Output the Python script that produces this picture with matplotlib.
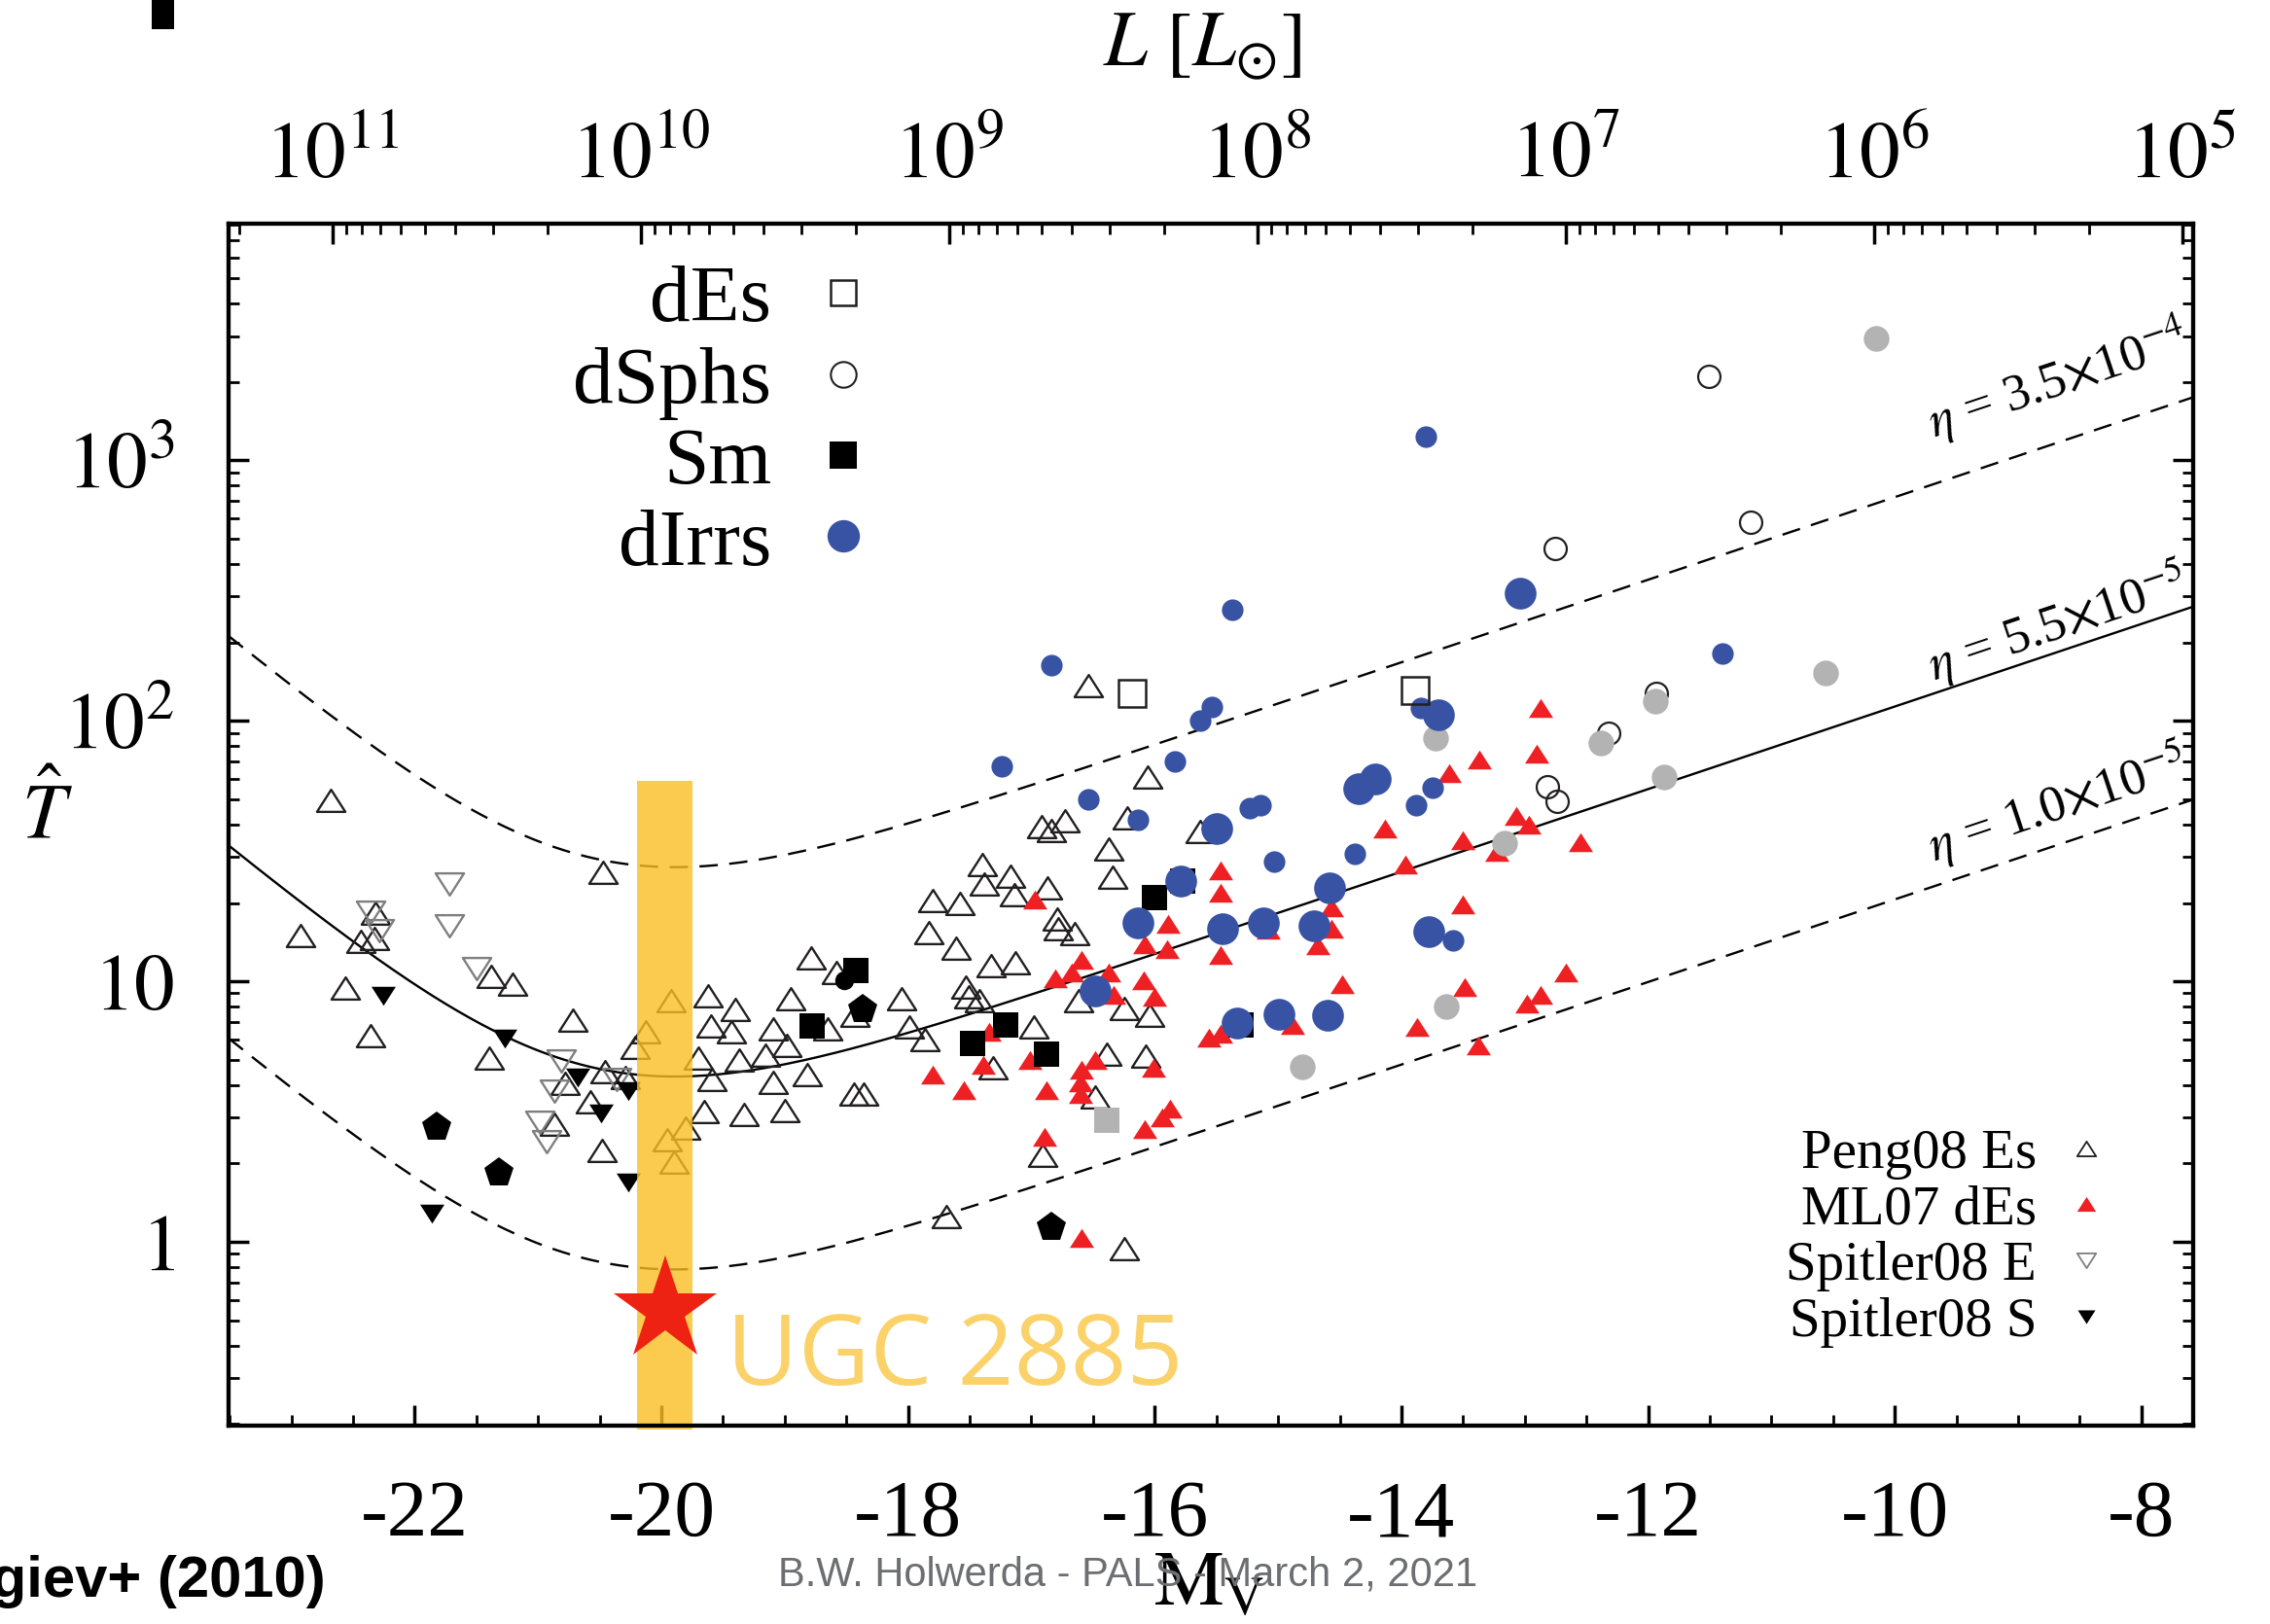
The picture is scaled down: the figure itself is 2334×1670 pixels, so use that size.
import numpy as np
import matplotlib
matplotlib.use('Agg')
import matplotlib.pyplot as plt
from matplotlib.path import Path
from matplotlib.lines import Line2D
from matplotlib.patches import Rectangle
from matplotlib.ticker import (MultipleLocator, FixedLocator, FuncFormatter,
                               LogLocator, NullFormatter)

plt.rcParams['font.family'] = ['Liberation Serif', 'DejaVu Serif']
plt.rcParams['mathtext.fontset'] = 'stix'
plt.rcParams['axes.unicode_minus'] = False

# ---------------- data (M_V, T_hat) ----------------
peng08_es = [(-22.685, 49.4), (-22.93, 15.0), (-22.44, 14.2), (-22.32, 18.3), (-22.33, 14.6),
             (-22.56, 9.4), (-22.36, 6.2), (-20.47, 26.2), (-21.38, 10.5), (-21.21, 9.8),
             (-20.72, 7.1), (-21.40, 5.1), (-20.78, 4.05), (-20.46, 4.5), (-20.58, 3.44),
             (-20.87, 2.84), (-20.48, 2.24), (-20.29, 4.26), (-20.21, 5.6), (-20.13, 6.4),
             (-19.92, 8.4), (-19.95, 2.47), (-19.80, 2.73), (-19.90, 2.03), (-19.62, 8.8),
             (-19.40, 7.8), (-19.60, 6.75), (-19.43, 6.4), (-19.70, 5.1), (-19.59, 4.2),
             (-19.37, 5.0), (-19.65, 3.16), (-19.33, 3.09), (-19.09, 6.6), (-19.16, 5.2),
             (-19.09, 4.1),
             (-16.54, 137), (-16.06, 61), (-16.92, 39.4), (-16.84, 38.1), (-16.73, 41.2),
             (-16.22, 42.3), (-15.63, 37.7), (-16.37, 32.2), (-16.34, 25.2), (-17.40, 28.1),
             (-17.38, 23.6), (-17.17, 25.4), (-17.14, 21.5), (-16.87, 22.8), (-17.80, 20.5),
             (-17.58, 20.0), (-17.83, 15.4), (-17.61, 13.4), (-16.79, 17.4), (-16.78, 16.0),
             (-16.65, 15.3), (-18.79, 12.3), (-17.33, 11.5), (-17.13, 11.8), (-18.95, 8.6),
             (-18.58, 10.8), (-17.53, 9.5), (-17.51, 8.7), (-17.42, 8.4), (-18.05, 8.6),
             (-16.25, 7.9), (-16.04, 7.4), (-16.62, 8.4), (-18.65, 6.6), (-17.99, 6.7),
             (-17.86, 6.0), (-18.98, 5.7), (-18.43, 7.4), (-16.98, 6.7), (-18.82, 4.4),
             (-18.44, 3.7), (-18.36, 3.7), (-19.00, 3.2), (-17.31, 4.67), (-16.39, 5.24),
             (-16.07, 5.15), (-16.48, 3.6), (-16.91, 2.15), (-17.69, 1.25), (-16.25, 0.94)]

ml07_des = [(-16.97, 20.7), (-15.47, 26.7), (-15.47, 21.9), (-15.89, 16.7), (-16.08, 13.9),
            (-15.90, 13.3), (-15.47, 12.6), (-16.59, 12.1), (-16.81, 10.3), (-16.67, 10.8),
            (-16.37, 10.8), (-16.09, 10.1), (-16.00, 8.7), (-16.33, 8.9), (-14.57, 19.2),
            (-14.57, 16.0), (-14.68, 13.8), (-15.08, 15.8), (-14.48, 9.8), (-17.34, 6.4),
            (-17.39, 4.8), (-17.80, 4.4), (-17.55, 3.83), (-17.01, 5.0), (-16.88, 3.83),
            (-16.59, 4.6), (-16.48, 5.0), (-16.60, 4.1), (-16.60, 3.7), (-16.01, 4.67),
            (-15.56, 6.1), (-15.47, 6.3), (-14.88, 6.8), (-16.89, 2.54), (-16.08, 2.71),
            (-15.94, 3.0), (-15.88, 3.25), (-16.59, 1.04),
            (-12.87, 112), (-12.90, 75), (-13.37, 71), (-13.61, 63), (-14.13, 38.7),
            (-13.50, 34.7), (-13.07, 43), (-12.97, 40), (-13.23, 31.5), (-13.97, 28),
            (-12.55, 34.2), (-13.50, 19.7), (-13.49, 9.5), (-12.67, 10.8), (-12.87, 8.9),
            (-12.98, 8.2), (-13.87, 6.7), (-13.38, 5.7)]

spitler08_e = [(-21.72, 23.6), (-21.72, 16.4), (-22.36, 18.4), (-22.29, 15.7), (-21.50, 11.2),
               (-20.81, 4.97), (-20.87, 3.79), (-20.36, 4.2), (-20.99, 2.87), (-20.93, 2.43)]

spitler08_s = [(-22.26, 8.8), (-21.27, 6.05), (-20.68, 4.26), (-20.27, 3.79), (-20.49, 3.11),
               (-20.27, 1.69), (-21.86, 1.28)]

des = [(-16.18, 127), (-13.89, 131)]

dsphs = [(-12.75, 457), (-11.51, 2100), (-11.17, 577), (-11.93, 127), (-12.32, 90),
         (-12.82, 56), (-12.74, 49)]

sm = [(-18.42, 11.0), (-18.78, 6.75), (-17.21, 6.8), (-17.48, 5.8), (-16.88, 5.24),
      (-16.00, 21.0), (-15.77, 24.2), (-15.30, 6.8)]

dirrs_small = [(-16.84, 163), (-17.24, 66.7), (-16.54, 49.9), (-15.535, 113), (-15.63, 100),
               (-15.84, 70), (-16.14, 41.9), (-15.23, 46.4), (-15.14, 47.4), (-15.03, 28.8),
               (-14.38, 31), (-13.80, 1233), (-15.37, 266), (-11.40, 181), (-13.84, 112),
               (-13.75, 55.5), (-13.88, 47.5), (-13.58, 14.4)]

dirrs_big = [(-15.50, 38.5), (-15.79, 24.3), (-16.14, 16.8), (-15.45, 15.9), (-15.12, 16.8),
             (-14.71, 16.4), (-14.58, 22.9), (-16.48, 9.2), (-15.33, 6.9), (-14.99, 7.5),
             (-14.60, 7.4), (-14.35, 55), (-14.21, 60), (-13.04, 310), (-13.70, 106),
             (-13.78, 15.5)]

grey_circles = [(-14.80, 4.7), (-13.72, 86), (-11.94, 119), (-12.38, 82), (-11.87, 61),
                (-13.16, 33.8), (-13.64, 8.0), (-10.56, 153), (-10.15, 2930)]
grey_square = [(-16.39, 2.92)]
pentagons = [(-21.82, 2.77), (-21.32, 1.84), (-18.37, 7.8), (-16.84, 1.14)]
black_circle = [(-18.52, 10.1)]

ugc2885 = [(-19.97, 0.548)]
ugc_band_M = (-20.20, -19.75)
ugc_band_T = (0.19, 59.0)

eta_values = [3.5e-4, 5.5e-5, 1.0e-5]
eta_labels = [r'$\eta$ = 3.5$\times$10$^{-4}$', r'$\eta$ = 5.5$\times$10$^{-5}$',
              r'$\eta$ = 1.0$\times$10$^{-5}$']
eta_label_T = [2047, 239, 48.3]

x_ticks = [-22, -20, -18, -16, -14, -12, -10, -8]
L_exponents = [11, 10, 9, 8, 7, 6, 5]
M_sun_V = 4.83
xlim = (-23.51, -7.58)
ylim = (0.1972, 8100)


def model_logT(M, eta):
    """Georgiev+2010-type model curve, T-hat scaling linearly with eta."""
    u = M + 20.0
    return np.log10(eta) + 4.7296 + 0.1585 * u + np.log10(1 + 10 ** (-0.55 * (u + 0.605)))


def split(pts):
    a = np.array(pts, dtype=float)
    return a[:, 0], a[:, 1]


# ---------------- figure ----------------
W, H = 2334, 1670
fig = plt.figure(figsize=(W / 100, H / 100), dpi=100, facecolor='white')
ax = fig.add_axes([235 / W, 1 - 1466 / H, (2255 - 235) / W, (1466 - 230) / H])
ax.set_yscale('log')
ax.set_xlim(*xlim)
ax.set_ylim(*ylim)

blue = '#3953A4'
red = '#EE2024'
dark = '#231F20'
greyc = '#B3B3B3'
tri_up = Path([(-1, -0.78), (1, -0.78), (0, 0.78), (-1, -0.78)], closed=True)
tri_dn = Path([(-1, 0.78), (1, 0.78), (0, -0.78), (-1, 0.78)], closed=True)

# model curves
Mg = np.linspace(xlim[0], xlim[1], 500)
for eta in eta_values:
    ls = '-' if eta == 5.5e-5 else '--'
    line, = ax.plot(Mg, 10 ** model_logT(Mg, eta), color='black', lw=1.7, ls=ls, zorder=1.5)
    if ls == '--':
        line.set_dashes((8, 5))


def pl(pts, **kw):
    m, t = split(pts)
    ax.plot(m, t, ls='none', **kw)


pl(peng08_es, marker=tri_up, ms=21, mfc='none', mec=dark, mew=1.7, zorder=3)
pl(spitler08_e, marker=tri_dn, ms=21, mfc='none', mec='#7F7F7F', mew=1.7, zorder=3)
pl(spitler08_s, marker=tri_dn, ms=18, mfc='black', mec='black', mew=0, zorder=3.2)
pl(ml07_des, marker=tri_up, ms=18, mfc=red, mec=red, mew=0, zorder=3.4)
pl(pentagons, marker='p', ms=23, mfc='black', mec='black', mew=0, zorder=3.5)
pl(black_circle, marker='o', ms=14, mfc='black', mec='black', mew=0, zorder=3.5)
pl(sm, marker='s', ms=19, mfc='black', mec='black', mew=0, zorder=3.6)
pl(dsphs, marker='o', ms=16.5, mfc='none', mec=dark, mew=1.6, zorder=3.7)
pl(grey_circles, marker='o', ms=19, mfc=greyc, mec=greyc, mew=0, zorder=3.8)
pl(grey_square, marker='s', ms=19, mfc=greyc, mec=greyc, mew=0, zorder=3.8)
pl(dirrs_small, marker='o', ms=16, mfc=blue, mec=blue, mew=0, zorder=4)
pl(dirrs_big, marker='o', ms=23.5, mfc=blue, mec=blue, mew=0, zorder=4)
pl(des, marker='s', ms=20.5, mfc='none', mec=dark, mew=1.8, zorder=4.5)

# UGC 2885 band and star
ax.add_patch(Rectangle((ugc_band_M[0], ugc_band_T[0]), ugc_band_M[1] - ugc_band_M[0],
                       ugc_band_T[1] - ugc_band_T[0], facecolor=(251 / 255, 190 / 255, 35 / 255),
                       alpha=0.8, lw=0, zorder=10, clip_on=False))
um, ut = split(ugc2885)
ax.plot(um, ut, ls='none', marker='*', ms=81, color='#EE2212', mew=0, zorder=12)
ax.text(-19.47, 0.283, 'UGC 2885', family='Open Sans', fontsize=73, color='#FBD26A',
        ha='left', va='baseline', zorder=12)

# eta labels
for lab, tl in zip(eta_labels, eta_label_T):
    ax.text(-8.68, tl, lab, fontsize=38, rotation=18.5, rotation_mode='anchor',
            ha='center', va='center', zorder=6)

# ticks
ax.xaxis.set_major_locator(FixedLocator(x_ticks))
ax.xaxis.set_minor_locator(MultipleLocator(0.5))
ax.xaxis.set_major_formatter(FuncFormatter(lambda v, p: '%d' % round(v)))
ax.yaxis.set_major_locator(LogLocator(base=10, numticks=20))
ax.yaxis.set_minor_locator(LogLocator(base=10, subs=np.arange(2, 10), numticks=20))
ax.yaxis.set_minor_formatter(NullFormatter())


def yfmt(v, p):
    e = int(round(np.log10(v)))
    return {0: '$1$', 1: '$10$'}.get(e, r'$10^{%d}$' % e)


ax.yaxis.set_major_formatter(FuncFormatter(yfmt))
ax.tick_params(axis='both', which='both', direction='in', top=False, bottom=True,
               left=True, right=True)
ax.tick_params(which='major', length=15, width=2.5, labelsize=60, pad=40)
ax.tick_params(which='minor', length=8, width=2)

tw = ax.twiny()
tw.set_xlim((M_sun_V - xlim[0]) / 2.5, (M_sun_V - xlim[1]) / 2.5)
tw.xaxis.set_major_locator(FixedLocator(L_exponents))
tw.xaxis.set_minor_locator(FixedLocator([n + np.log10(k) for n in range(4, 12)
                                         for k in range(2, 10)]))
tw.xaxis.set_major_formatter(FuncFormatter(lambda v, p: r'$10^{%d}$' % round(v)))
tw.xaxis.set_minor_formatter(NullFormatter())
tw.tick_params(axis='x', which='both', direction='in', top=True, bottom=False)
tw.tick_params(axis='x', which='major', length=15, width=2.5, labelsize=60, pad=21)
tw.tick_params(axis='x', which='minor', length=8, width=2)
for a in (ax, tw):
    for s in a.spines.values():
        s.set_linewidth(3)

# legends
h1 = [Line2D([], [], ls='none', marker='s', ms=19, mfc='none', mec=dark, mew=1.8),
      Line2D([], [], ls='none', marker='o', ms=19, mfc='none', mec=dark, mew=1.5),
      Line2D([], [], ls='none', marker='s', ms=19.5, mfc='black', mec='black', mew=0),
      Line2D([], [], ls='none', marker='o', ms=24, mfc=blue, mec=blue, mew=0)]
leg1 = ax.legend(h1, ['dEs', 'dSphs', 'Sm', 'dIrrs'], loc='upper right',
                 bbox_to_anchor=(0.3233, 0.9660), frameon=False, markerfirst=False,
                 prop={'family': 'Liberation Serif', 'size': 60}, handlelength=0.5,
                 handletextpad=0.635, labelspacing=0.085, borderpad=0, borderaxespad=0,
                 numpoints=1)
ax.add_artist(leg1)
h2 = [Line2D([], [], ls='none', marker=tri_up, ms=14, mfc='none', mec=dark, mew=1.3),
      Line2D([], [], ls='none', marker=tri_up, ms=14, mfc=red, mec=red, mew=0),
      Line2D([], [], ls='none', marker=tri_dn, ms=14, mfc='none', mec='#7F7F7F', mew=1.3),
      Line2D([], [], ls='none', marker=tri_dn, ms=13, mfc='black', mec='black', mew=0)]
leg2 = ax.legend(h2, ['Peng08 Es', 'ML07 dEs', 'Spitler08 E', 'Spitler08 S'],
                 loc='upper right', bbox_to_anchor=(0.9525, 0.247), frameon=False,
                 markerfirst=False, prop={'family': 'Liberation Serif', 'size': 41},
                 handlelength=0.5, handletextpad=0.64, labelspacing=0.1, borderpad=0,
                 borderaxespad=0, numpoints=1)
for lg in (leg1, leg2):
    lg.set_zorder(20)

# axis labels and slide texts
fig.text(22 / W, 1 - 862 / H, r'$\hat{T}$', fontsize=58, ha='left', va='baseline')
fig.text(1134 / W, 1 - 68 / H, r'$L\ [L_{\odot}]$', fontsize=58, ha='left', va='baseline')
fig.text(1186 / W, 1 - 1650 / H, r'$\mathrm{M}_\mathrm{V}$', fontsize=58, ha='left',
         va='baseline')
fig.text(1160 / W, 1 - 1630 / H, 'B.W. Holwerda - PALS - March 2, 2021', ha='center',
         va='baseline', fontsize=30, color='#6D6E71', family='Liberation Sans')
fig.text(335 / W, 1 - 1642 / H, 'Georgiev+ (2010)', ha='right', va='baseline', fontsize=43,
         fontweight='bold', family='Liberation Sans')
fig.add_artist(Rectangle((156 / W, 1 - 30 / H), 23 / W, 30 / H, transform=fig.transFigure,
                         facecolor='black', lw=0))

fig.savefig('out.png', dpi=100, facecolor='white')
